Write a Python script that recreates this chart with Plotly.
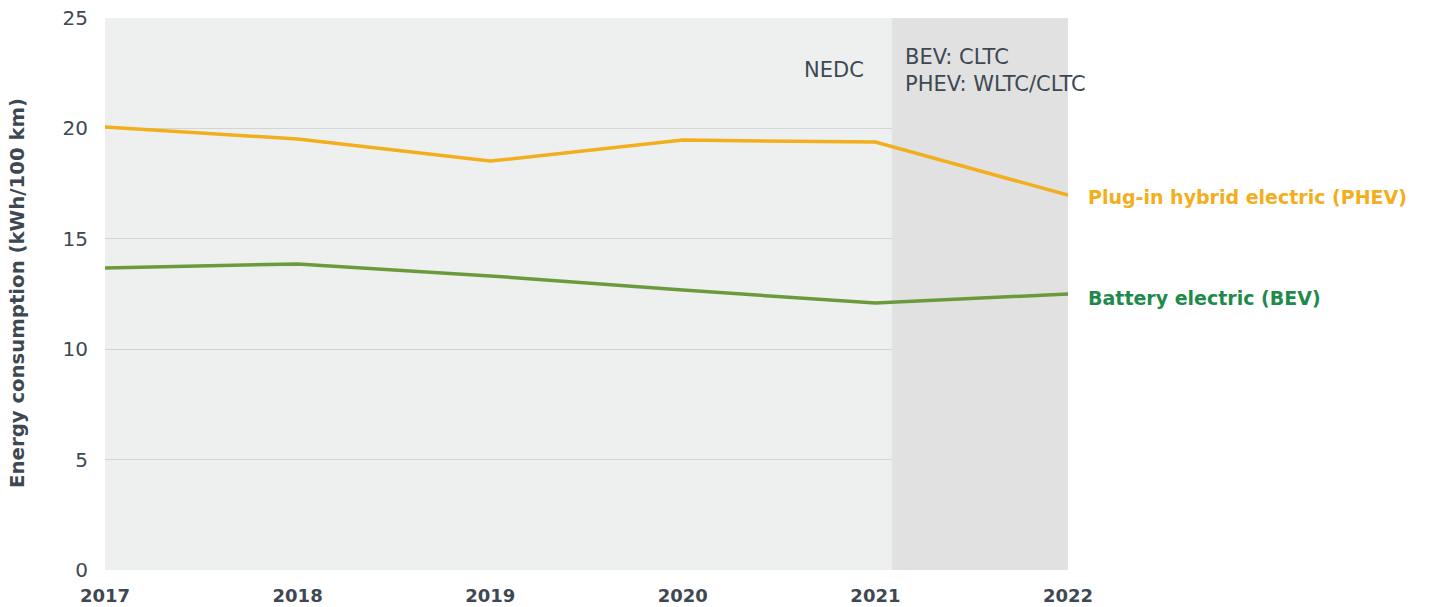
import plotly.graph_objects as go

years = [2017, 2018, 2019, 2020, 2021, 2022]
phev = [20.06, 19.52, 18.52, 19.47, 19.38, 16.98]
bev = [13.68, 13.86, 13.32, 12.68, 12.09, 12.5]
y_ticks = [0, 5, 10, 15, 20, 25]
shade_start = 2021.086

FONT = "DejaVu Sans"
DARK = "#3d4853"
PHEV_C = "#f2ae1c"
BEV_C = "#6a9a3c"
BEV_LABEL = "#1f8a4b"

fig = go.Figure()
fig.add_trace(go.Scatter(x=years, y=phev, mode="lines", line=dict(color=PHEV_C, width=3.5),
                         showlegend=False, hoverinfo="x+y"))
fig.add_trace(go.Scatter(x=years, y=bev, mode="lines", line=dict(color=BEV_C, width=3.5),
                         showlegend=False, hoverinfo="x+y"))

fig.add_shape(type="rect", xref="x", yref="y", x0=shade_start, x1=2022, y0=0, y1=25,
              fillcolor="#e1e1e1", line=dict(width=0), layer="between")

fig.add_annotation(x=shade_start, y=22.64, xref="x", yref="y", text="NEDC", showarrow=False,
                   xanchor="right", xshift=-26, font=dict(family=FONT, size=21, color=DARK))
fig.add_annotation(x=shade_start, y=22.64, xref="x", yref="y",
                   text="BEV: CLTC<br>PHEV: WLTC/CLTC", showarrow=False, align="left",
                   xanchor="left", xshift=11, font=dict(family=FONT, size=21, color=DARK))
fig.add_annotation(x=2022, y=phev[-1], xref="x", yref="y", text="Plug-in hybrid electric (PHEV)",
                   showarrow=False, xanchor="left", xshift=18, yshift=-2,
                   font=dict(family=FONT, size=19, color=PHEV_C, weight=700))
fig.add_annotation(x=2022, y=bev[-1], xref="x", yref="y", text="Battery electric (BEV)",
                   showarrow=False, xanchor="left", xshift=18, yshift=-4,
                   font=dict(family=FONT, size=19, color=BEV_LABEL, weight=700))
fig.add_annotation(x=(18 - 105) / 963, y=0.502, xref="paper", yref="paper",
                   text="Energy consumption (kWh/100 km)", showarrow=False, textangle=-90,
                   xanchor="center", yanchor="middle",
                   font=dict(family=FONT, size=19.7, color=DARK, weight=700))

fig.update_layout(
    width=1429, height=607,
    margin=dict(l=105, r=361, t=18, b=37),
    paper_bgcolor="white", plot_bgcolor="#eef0ef",
    font=dict(family=FONT, color=DARK),
    xaxis=dict(range=[2017, 2022], tickmode="array", tickvals=years, ticktext=[str(y) for y in years],
               showgrid=False, zeroline=False, showline=False, ticks="", automargin=False,
               ticklabelstandoff=13,
               tickfont=dict(family=FONT, size=18, color=DARK, weight=700)),
    yaxis=dict(range=[0, 25], tickmode="array", tickvals=y_ticks, showgrid=True,
               gridcolor="#d3d5d5", gridwidth=1, zeroline=False, showline=False, ticks="",
               automargin=False, ticklabelstandoff=16,
               tickfont=dict(family=FONT, size=20, color=DARK)),
)

fig.write_html("out.html", config={"displayModeBar": False},
               post_script="document.body.style.margin='0px';")
